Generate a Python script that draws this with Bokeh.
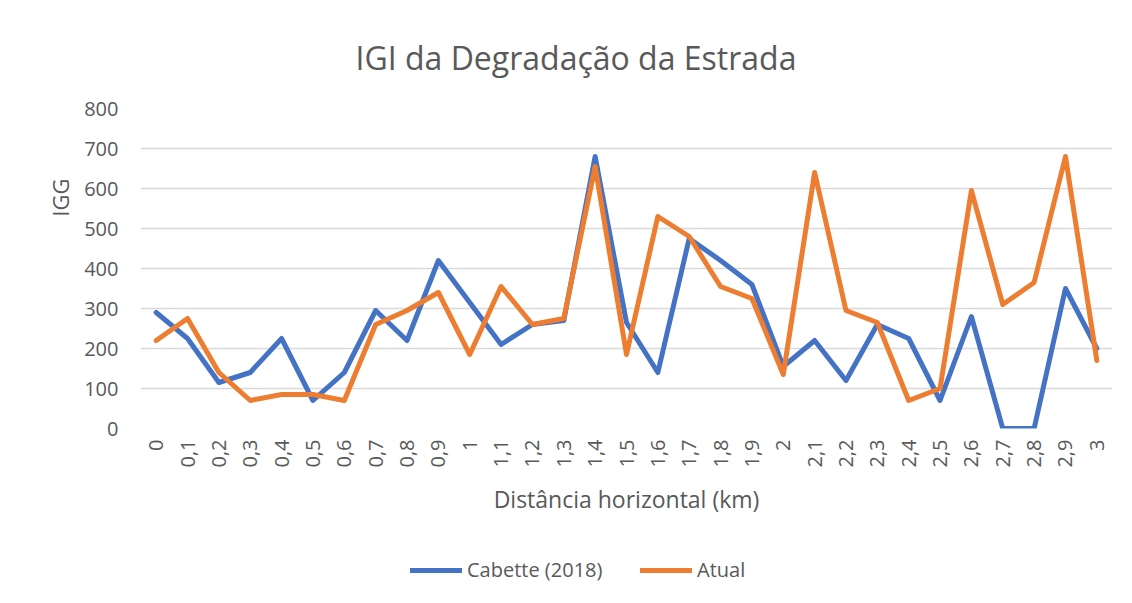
import math
from bokeh.plotting import figure
from bokeh.layouts import column
from bokeh.models import FactorRange, Range1d, FixedTicker, Title, Legend, LegendItem, ColumnDataSource
from bokeh.embed import file_html
from bokeh.resources import INLINE

categories = ["0", "0,1", "0,2", "0,3", "0,4", "0,5", "0,6", "0,7", "0,8", "0,9",
              "1", "1,1", "1,2", "1,3", "1,4", "1,5", "1,6", "1,7", "1,8", "1,9",
              "2", "2,1", "2,2", "2,3", "2,4", "2,5", "2,6", "2,7", "2,8", "2,9", "3"]
cabette_2018 = [290, 225, 115, 140, 225, 70, 140, 295, 220, 420,
                315, 210, 260, 270, 680, 265, 140, 475, 420, 360,
                155, 220, 120, 260, 225, 70, 280, 0, 0, 350, 200]
atual = [220, 275, 140, 70, 85, 85, 70, 260, 295, 340,
         185, 355, 260, 275, 655, 185, 530, 480, 355, 325,
         135, 640, 295, 265, 70, 100, 595, 310, 365, 680, 170]
y_ticks = [0, 100, 200, 300, 400, 500, 600, 700, 800]
series_names = ["Cabette (2018)", "Atual"]

FONT = "Open Sans"
TXT = "#595959"
BLUE = "#4472C4"
ORANGE = "#ED7D31"
GRID = "#d9d9d9"

src = ColumnDataSource(dict(x=categories, a=cabette_2018, b=atual))

p = figure(frame_width=972, frame_height=320, output_backend="svg", toolbar_location=None,
           x_range=FactorRange(*categories), y_range=Range1d(0, 800),
           min_border_left=140, min_border_right=4, min_border_top=108, min_border_bottom=112)
p.x_range.range_padding = 0
p.outline_line_color = None
p.background_fill_color = "white"
p.border_fill_color = "white"

line_style = dict(line_width=5, line_join="round", line_cap="round")
p.line("x", "a", source=src, line_color=BLUE, **line_style)
p.line("x", "b", source=src, line_color=ORANGE, **line_style)

p.xgrid.grid_line_color = None
p.ygrid.grid_line_color = GRID
p.ygrid.grid_line_width = 1.5
p.yaxis.ticker = FixedTicker(ticks=y_ticks)

for ax in (p.xaxis[0], p.yaxis[0]):
    ax.axis_line_color = None
    ax.major_tick_line_color = None
    ax.minor_tick_line_color = None
    ax.major_tick_out = 0
    ax.major_tick_in = 0
    ax.major_label_text_font = FONT
    ax.major_label_text_font_size = "20px"
    ax.major_label_text_color = TXT

p.yaxis.major_label_standoff = 22
p.xaxis.major_label_standoff = 11
p.xaxis.major_label_orientation = math.pi / 2

p.xaxis.axis_label = "Distância horizontal (km)"
p.xaxis.axis_label_text_font = FONT
p.xaxis.axis_label_text_font_size = "23px"
p.xaxis.axis_label_text_font_style = "normal"
p.xaxis.axis_label_text_color = TXT
p.xaxis.axis_label_standoff = 12

# chart title
p.title.text = "IGI da Degradação da Estrada"
p.title.text_font = FONT
p.title.text_font_size = "32px"
p.title.text_font_style = "normal"
p.title.text_color = TXT
p.title.align = "left"
p.title.offset = 215
p.title.standoff = 59

# y axis title as a side title
p.add_layout(Title(text="IGG", text_font=FONT, text_font_size="22px", text_font_style="normal",
                   text_color=TXT, align="right", offset=70, standoff=14), "left")

# legend strip under the chart (series drawn outside its visible range, only the legend shows)
leg = figure(width=1116, height=47, output_backend="svg", toolbar_location=None,
             x_range=FactorRange(*categories), y_range=Range1d(-3000, -2000),
             x_axis_type=None, y_axis_type=None, min_border=0)
leg.outline_line_color = None
leg.xgrid.visible = False
leg.ygrid.visible = False
leg.background_fill_color = "white"
leg.border_fill_color = "white"
g1 = leg.line("x", "a", source=src, line_color=BLUE, **line_style)
g2 = leg.line("x", "b", source=src, line_color=ORANGE, **line_style)

legend = Legend(items=[LegendItem(label=series_names[0], renderers=[g1]),
                       LegendItem(label=series_names[1], renderers=[g2])],
                location=(270, 4), orientation="horizontal",
                glyph_width=52, glyph_height=20, label_standoff=5, spacing=30,
                label_width=143,
                padding=0, margin=0, border_line_color=None, background_fill_alpha=0,
                label_text_font=FONT, label_text_font_size="20px", label_text_color=TXT)
leg.add_layout(legend)

page = column(p, leg, spacing=0)

open("out.html", "w").write(file_html(page, INLINE))
